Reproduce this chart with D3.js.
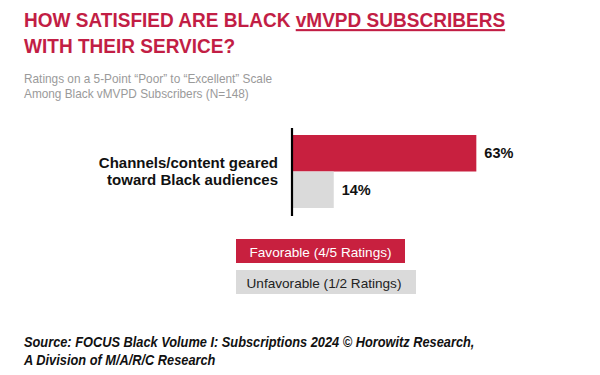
<!DOCTYPE html>
<html><head><meta charset="utf-8">
<script src="https://cdn.jsdelivr.net/npm/d3@7"></script>
<style>body{margin:0;background:#fff}svg{display:block}</style>
</head><body>
<script>
const categories = ["Channels/content geared|toward Black audiences"];
const seriesNames = ["Favorable (4/5 Ratings)", "Unfavorable (1/2 Ratings)"];
const favorable = [63];
const unfavorable = [14];
const colors = ["#C8203F", "#DADADA"];

const W = 600, H = 375;
const svg = d3.select("body").append("svg").attr("width", W).attr("height", H);
const font = "'Liberation Sans', Arial, sans-serif";

// Title (slightly condensed)
const tg = svg.append("g").attr("transform", "translate(24,0) scale(0.907,1)");
const title = tg.append("text").attr("font-family", font).attr("font-weight", "bold")
  .attr("font-size", 21).attr("fill", "#C21E45");
title.append("tspan").attr("x", 0).attr("y", 27).text("HOW SATISFIED ARE BLACK ");
title.append("tspan").attr("text-decoration", "underline").text("vMVPD SUBSCRIBERS");
tg.append("text").attr("font-family", font).attr("font-weight", "bold")
  .attr("font-size", 21).attr("fill", "#C21E45").attr("x", 0).attr("y", 53)
  .text("WITH THEIR SERVICE?");

// Subtitle
const sg = svg.append("g").attr("transform", "translate(24,0) scale(0.91,1)");
const sub = sg.append("text").attr("font-family", font).attr("font-size", 13).attr("fill", "#9A9A9A");
sub.append("tspan").attr("x", 0).attr("y", 83).text("Ratings on a 5-Point \u201CPoor\u201D to \u201CExcellent\u201D Scale");
sub.append("tspan").attr("x", 0).attr("y", 98).text("Among Black vMVPD Subscribers (N=148)");

// Scales
const x = d3.scaleLinear().domain([0, 100]).range([293, 293 + 291]);
const y = d3.scaleBand().domain(categories).range([135, 208]).padding(0);
const sub2 = d3.scaleBand().domain([0, 1]).range([0, y.bandwidth()]).padding(0);

const rows = categories.map((c, i) => ({cat: c, vals: [favorable[i], unfavorable[i]]}));

const g = svg.append("g");
rows.forEach(r => {
  r.vals.forEach((v, j) => {
    g.append("rect").attr("x", x(0)).attr("y", y(r.cat) + sub2(j))
      .attr("width", x(v) - x(0)).attr("height", sub2.bandwidth()).attr("fill", colors[j]);
    g.append("text").attr("x", x(v) + 8).attr("y", y(r.cat) + sub2(j) + sub2.bandwidth() / 2 + 5)
      .attr("font-family", font).attr("font-weight", "bold").attr("font-size", 14.5)
      .attr("fill", "#111").text(v + "%");
  });
  const lines = r.cat.split("|");
  const t = g.append("text").attr("text-anchor", "end").attr("font-family", font)
    .attr("font-weight", "bold").attr("font-size", 15).attr("fill", "#111");
  lines.forEach((l, k) => t.append("tspan").attr("x", 278).attr("y", 168 + k * 16.5).text(l));
});

// Axis line
svg.append("line").attr("x1", x(0) - 1).attr("x2", x(0) - 1).attr("y1", 128).attr("y2", 216)
  .attr("stroke", "#000").attr("stroke-width", 2.2);

// Legend
const legW = [169, 180];
seriesNames.forEach((s, j) => {
  const ly = 239 + j * 31;
  svg.append("rect").attr("x", 236).attr("y", ly).attr("width", legW[j]).attr("height", 24).attr("fill", colors[j]);
  svg.append("text").attr("x", 236 + legW[j] / 2 + (j === 0 ? 0 : -2)).attr("y", ly + 17.5).attr("text-anchor", "middle")
    .attr("font-family", font).attr("font-size", 13.6).attr("fill", j === 0 ? "#fff" : "#222").text(s);
});

// Source (condensed bold italic)
const srcg = svg.append("g").attr("transform", "translate(24,0) scale(0.853,1)");
const src = srcg.append("text").attr("font-family", font).attr("font-weight", "bold")
  .attr("font-style", "italic").attr("font-size", 15).attr("fill", "#111");
src.append("tspan").attr("x", 0).attr("y", 347).text("Source: FOCUS Black Volume I: Subscriptions 2024 \u00A9 Horowitz Research,");
src.append("tspan").attr("x", 0).attr("y", 365).text("A Division of M/A/R/C Research");
</script>
</body></html>
